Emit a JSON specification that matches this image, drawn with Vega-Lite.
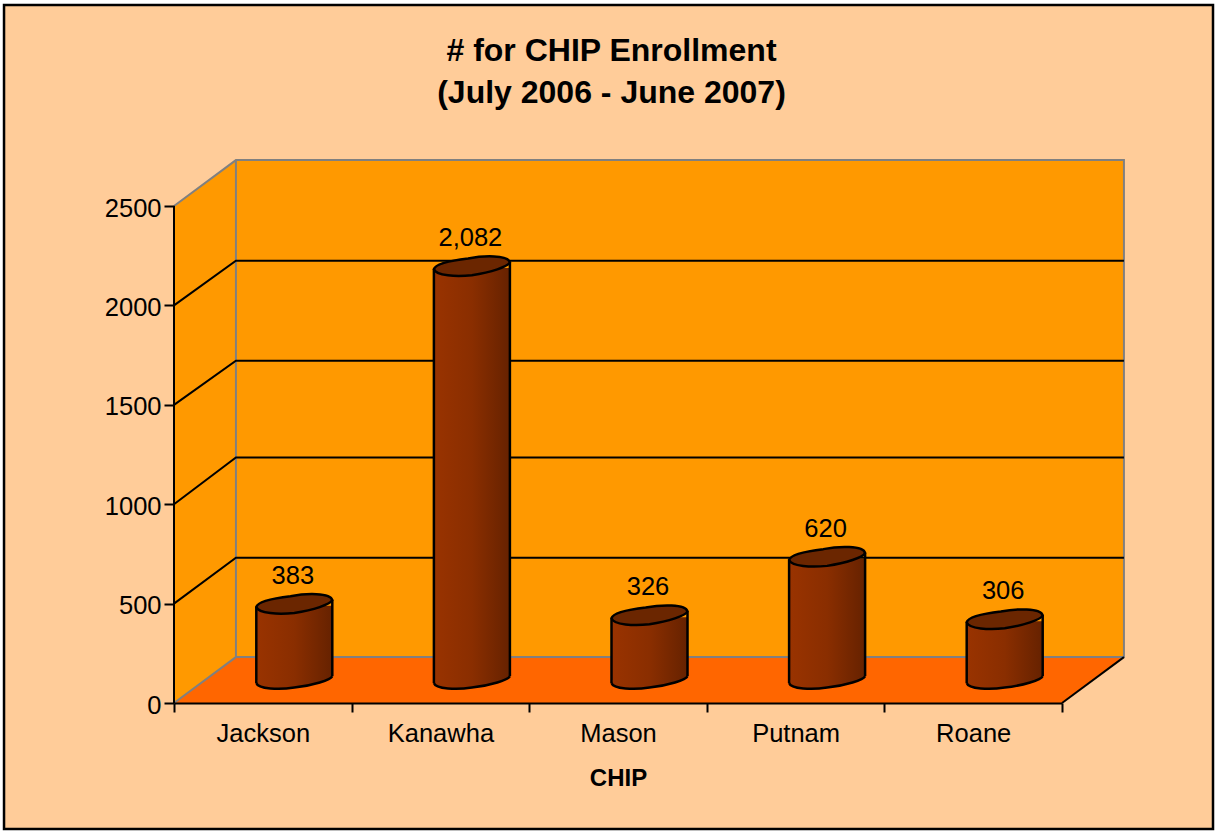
{
"$schema":"https://vega.github.io/schema/vega-lite/v6.json",
"width":951,"height":543,
"autosize":{"type":"none"},
"padding":{"left":174,"top":160,"right":92,"bottom":130},
"background":"#ffffff",
"view":{"stroke":null},
"config":{"font":"Liberation Sans","view":{"stroke":null}},
"title":{"text":["# for CHIP Enrollment","(July 2006 - June 2007)"],"font":"Liberation Sans","fontSize":32,"fontWeight":"bold","color":"#000000","lineHeight":42,"anchor":"middle","frame":"group","dx":-38,"offset":-106,"zindex":1},
"resolve":{"scale":{"x":"independent"},"axis":{"x":"independent"}},
"layer":[
{"layer":[
{"data":{"values":[{"x":-0.958,"x2":5.856,"y":-634,"y2":3511}]},
 "mark":{"type":"rect","fill":"#ffcc99","stroke":"#000000","strokeWidth":2.5},
 "encoding":{
  "x":{"field":"x","type":"quantitative","scale":{"domain":[0,5.36],"nice":false,"zero":false},"axis":null},
  "x2":{"field":"x2"},
  "y":{"field":"y","type":"quantitative","scale":{"domain":[0,2731.5],"nice":false,"zero":false},"axis":{"values":[0,500,1000,1500,2000,2500],"format":"d","title":null,"grid":false,"domain":false,"tickColor":"#000000","tickWidth":2,"tickSize":10,"labelFont":"Liberation Sans","labelFontSize":25.5,"labelColor":"#000000","labelPadding":3,"labelOffset":2,"labelFlush":false,"labelOverlap":false,"zindex":2}},
  "y2":{"field":"y2"}}},
{"data":{"values":[{"x":0.349,"x2":5.354,"y":231,"y2":2731}]},
 "mark":{"type":"rect","fill":"#ff9900"},
 "encoding":{"x":{"field":"x","type":"quantitative"},"x2":{"field":"x2"},"y":{"field":"y","type":"quantitative"},"y2":{"field":"y2"}}},
{"data":{"values":[{"x":0,"y":0,"y2":2500},{"x":0.349,"y":231,"y2":2731}]},
 "mark":{"type":"area","fill":"#ff9900","opacity":1},
 "encoding":{"x":{"field":"x","type":"quantitative"},"y":{"field":"y","type":"quantitative"},"y2":{"field":"y2"}}},
{"data":{"values":[{"x":0,"y":0,"y2":0},{"x":0.349,"y":0,"y2":231},{"x":5.005,"y":0,"y2":231},{"x":5.354,"y":231,"y2":231}]},
 "mark":{"type":"area","fill":"#ff6600","opacity":1},
 "encoding":{"x":{"field":"x","type":"quantitative"},"y":{"field":"y","type":"quantitative"},"y2":{"field":"y2"}}},
{"data":{"values":[
 {"seg":"a","k":1,"x":0,"y":2500},{"seg":"a","k":2,"x":0.349,"y":2731},{"seg":"a","k":3,"x":5.354,"y":2731},{"seg":"a","k":4,"x":5.354,"y":231},{"seg":"a","k":5,"x":0.349,"y":231},{"seg":"a","k":6,"x":0,"y":0},
 {"seg":"b","k":1,"x":0.349,"y":231},{"seg":"b","k":2,"x":0.349,"y":2731}]},
 "mark":{"type":"line","color":"#808080","strokeWidth":2},
 "encoding":{"x":{"field":"x","type":"quantitative"},"y":{"field":"y","type":"quantitative"},"detail":{"field":"seg"},"order":{"field":"k"}}},
{"data":{"values":[
 {"seg":"500","k":1,"x":0,"y":500},{"seg":"500","k":2,"x":0.349,"y":731},{"seg":"500","k":3,"x":5.354,"y":731},
 {"seg":"1000","k":1,"x":0,"y":1000},{"seg":"1000","k":2,"x":0.349,"y":1235},{"seg":"1000","k":3,"x":5.354,"y":1235},
 {"seg":"1500","k":1,"x":0,"y":1500},{"seg":"1500","k":2,"x":0.349,"y":1722},{"seg":"1500","k":3,"x":5.354,"y":1722},
 {"seg":"2000","k":1,"x":0,"y":2000},{"seg":"2000","k":2,"x":0.349,"y":2225},{"seg":"2000","k":3,"x":5.354,"y":2225},
 {"seg":"axis","k":1,"x":0,"y":0},{"seg":"axis","k":2,"x":0,"y":2500},
 {"seg":"edge","k":1,"x":5.005,"y":0},{"seg":"edge","k":2,"x":5.354,"y":231}]},
 "mark":{"type":"line","color":"#000000","strokeWidth":2},
 "encoding":{"x":{"field":"x","type":"quantitative"},"y":{"field":"y","type":"quantitative"},"detail":{"field":"seg"},"order":{"field":"k"}}}
]},
{"data":{"values":[{"name":"Jackson","value":383},{"name":"Kanawha","value":2082},{"name":"Mason","value":326},{"name":"Putnam","value":620},{"name":"Roane","value":306}]},
 "encoding":{
  "x":{"field":"name","type":"nominal","sort":null,"scale":{"type":"band","range":[0,888],"paddingInner":0,"paddingOuter":0},
   "axis":{"orient":"bottom","title":"CHIP","titleFont":"Liberation Sans","titleFontSize":24,"titleFontWeight":"bold","titleColor":"#000000","titlePadding":20,"tickBand":"extent","labelAngle":0,"labelFont":"Liberation Sans","labelFontSize":25.5,"labelColor":"#000000","labelPadding":9,"tickColor":"#000000","tickWidth":2,"tickSize":9,"domainColor":"#000000","domainWidth":2,"grid":false,"zindex":2}}},
 "layer":[
 {"mark":{"type":"point","filled":true,"opacity":1,"strokeWidth":0,"size":5776,"xOffset":31.5,"yOffset":-23,"shape":"M-1,0.08 C-0.95,-0.08 -0.45,-0.14 -0.1,-0.18 C0.3,-0.26 0.95,-0.28 1,-0.1 C0.95,0 0.5,0.14 0,0.2 C-0.4,0.26 -0.95,0.24 -1,0.08 Z","fill":{"gradient":"linear","x1":0,"y1":0,"x2":1,"y2":0,"stops":[{"offset":0,"color":"#993300"},{"offset":0.5,"color":"#8a2e00"},{"offset":1,"color":"#662200"}]}},
  "encoding":{"y":{"datum":0,"type":"quantitative"}}},
 {"mark":{"type":"point","filled":true,"opacity":1,"strokeWidth":0,"size":5776,"xOffset":31.5,"yOffset":-27,"shape":"M-1,0.08 C-0.95,-0.08 -0.45,-0.14 -0.1,-0.18 C0.3,-0.26 0.95,-0.28 1,-0.1 C0.95,0 0.5,0.14 0,0.2 C-0.4,0.26 -0.95,0.24 -1,0.08 Z","fill":{"gradient":"linear","x1":0,"y1":0,"x2":1,"y2":0,"stops":[{"offset":0,"color":"#993300"},{"offset":0.5,"color":"#8a2e00"},{"offset":1,"color":"#662200"}]}},
  "encoding":{"y":{"datum":0,"type":"quantitative"}}},
 {"mark":{"type":"bar","size":76,"xOffset":31.5,"yOffset":-21,"y2Offset":-25,"fill":{"gradient":"linear","x1":0,"y1":0,"x2":1,"y2":0,"stops":[{"offset":0,"color":"#993300"},{"offset":0.5,"color":"#8a2e00"},{"offset":1,"color":"#662200"}]}},
  "encoding":{"y":{"field":"value","type":"quantitative"},"y2":{"datum":0}}},
 {"mark":{"type":"point","filled":true,"opacity":1,"strokeWidth":0,"size":5776,"xOffset":31.5,"yOffset":-22,"shape":"M-1,0.08 C-0.95,-0.08 -0.45,-0.14 -0.1,-0.18 C0.3,-0.26 0.95,-0.28 1,-0.1 C0.95,0 0.5,0.14 0,0.2 C-0.4,0.26 -0.95,0.24 -1,0.08 Z","fill":{"gradient":"linear","x1":0,"y1":0,"x2":1,"y2":0,"stops":[{"offset":0,"color":"#993300"},{"offset":0.5,"color":"#8a2e00"},{"offset":1,"color":"#662200"}]}},
  "encoding":{"y":{"field":"value","type":"quantitative"}}},
 {"mark":{"type":"point","filled":false,"opacity":1,"stroke":"#000000","strokeWidth":2.5,"size":5776,"xOffset":31.5,"yOffset":-23,"shape":"M1,-0.1 C0.95,0 0.5,0.14 0,0.2 C-0.4,0.26 -0.95,0.24 -1,0.08"},
  "encoding":{"y":{"datum":0,"type":"quantitative"}}},
 {"mark":{"type":"rule","color":"#000000","strokeWidth":2.5,"xOffset":-6.5,"yOffset":-20,"y2Offset":-20},
  "encoding":{"y":{"field":"value","type":"quantitative"},"y2":{"datum":0}}},
 {"mark":{"type":"rule","color":"#000000","strokeWidth":2.5,"xOffset":69.5,"yOffset":-27,"y2Offset":-27},
  "encoding":{"y":{"field":"value","type":"quantitative"},"y2":{"datum":0}}},
 {"mark":{"type":"point","filled":true,"opacity":1,"fill":"#6b2600","stroke":"#000000","strokeWidth":2.5,"size":5776,"xOffset":31.5,"yOffset":-23,"shape":"M-1,0.08 C-0.95,-0.08 -0.45,-0.16 -0.1,-0.2 C0.3,-0.28 0.95,-0.3 1,-0.1 C0.95,0.02 0.5,0.16 0,0.24 C-0.4,0.28 -0.95,0.26 -1,0.08 Z"},
  "encoding":{"y":{"field":"value","type":"quantitative"}}},
 {"mark":{"type":"text","font":"Liberation Sans","fontSize":25.5,"color":"#000000","xOffset":30,"yOffset":-51,"baseline":"middle"},
  "encoding":{"y":{"field":"value","type":"quantitative"},"text":{"field":"value","type":"quantitative","format":","}}}
 ]}
]}
